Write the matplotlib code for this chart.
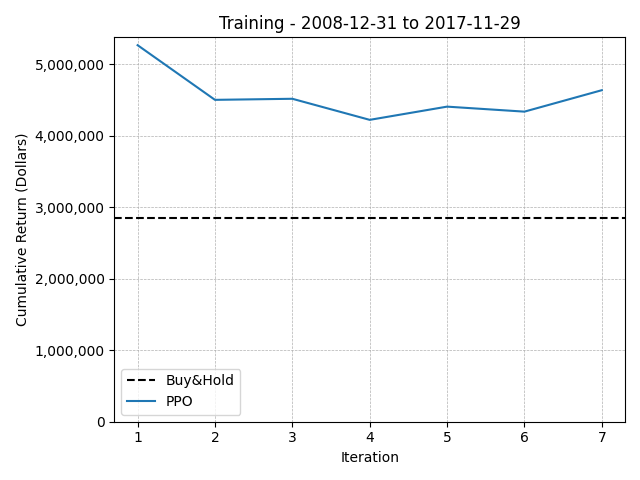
import matplotlib
matplotlib.use("Agg")
import matplotlib.pyplot as plt
from matplotlib.ticker import FuncFormatter

iterations = [1, 2, 3, 4, 5, 6, 7]
ppo = [5270000, 4505000, 4520000, 4225000, 4410000, 4340000, 4640000]
buy_hold = 2857000

fig, ax = plt.subplots(figsize=(6.4, 4.8), dpi=100)
ax.axhline(buy_hold, color="black", linestyle="--", label="Buy&Hold")
ax.plot(iterations, ppo, label="PPO")
ax.set_ylim(0, 5380000)
ax.yaxis.set_major_formatter(FuncFormatter(lambda v, p: f"{int(v):,}"))
ax.grid(True, linestyle="--", linewidth=0.5)
ax.set_xlabel("Iteration")
ax.set_ylabel("Cumulative Return (Dollars)")
ax.set_title("Training - 2008-12-31 to 2017-11-29")
ax.legend(loc="lower left")
fig.tight_layout()
fig.savefig("out.png")
